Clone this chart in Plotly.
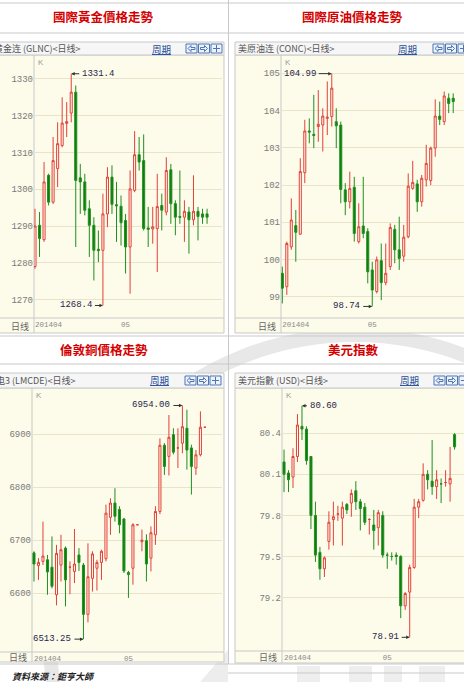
import plotly.graph_objects as go

W, H = 464, 682
CREAM = '#fdfbea'
GRID = '#e9e4c9'
BORDER = '#c9c9c9'

# ---------------- data ----------------
days = list(range(39))
month_labels = ['201404', '05']

gold_open = [1279.0, 1290.2, 1286.3, 1303.8, 1296.5, 1305.6, 1311.9, 1317.9, 1320.7, 1326.4,
             1303.1, 1302.0, 1294.7, 1290.2, 1283.7, 1283.4, 1293.3, 1303.3, 1295.8, 1295.4,
             1291.5, 1284.3, 1299.7, 1309.4, 1307.8, 1289.5, 1289.2, 1289.3, 1295.6, 1293.8,
             1305.3, 1296.1, 1292.6, 1292.4, 1293.8, 1291.7, 1294.0, 1293.3, 1293.3]
gold_close = [1290.0, 1286.6, 1302.0, 1296.5, 1307.8, 1312.4, 1318.0, 1318.4, 1326.4, 1302.4,
              1302.0, 1294.3, 1290.2, 1283.4, 1283.3, 1293.3, 1303.3, 1295.9, 1295.5, 1290.9,
              1284.3, 1300.1, 1309.4, 1307.4, 1289.3, 1289.1, 1289.8, 1295.3, 1294.3, 1305.1,
              1296.1, 1292.4, 1292.4, 1294.0, 1291.7, 1294.0, 1292.6, 1292.4, 1292.4]
gold_high = [1294.7, 1293.8, 1307.4, 1304.2, 1314.2, 1318.2, 1325.0, 1323.7, 1331.4, 1328.2,
             1306.9, 1304.2, 1297.0, 1292.4, 1288.8, 1298.8, 1306.0, 1306.5, 1302.0, 1298.3,
             1293.3, 1305.1, 1315.8, 1314.2, 1314.9, 1295.2, 1295.2, 1304.2, 1298.8, 1308.7,
             1306.9, 1297.0, 1305.1, 1297.0, 1295.2, 1303.8, 1295.2, 1294.7, 1294.7]
gold_low = [1278.4, 1281.6, 1285.7, 1295.6, 1296.0, 1300.6, 1311.4, 1314.2, 1318.2, 1284.3,
            1293.3, 1292.9, 1281.6, 1275.2, 1280.2, 1268.4, 1289.7, 1293.3, 1285.7, 1284.7,
            1277.1, 1271.6, 1299.2, 1305.1, 1288.8, 1284.3, 1285.2, 1277.5, 1288.8, 1292.9,
            1290.6, 1287.5, 1290.6, 1285.7, 1282.5, 1290.2, 1286.1, 1290.6, 1290.6]
gold_ticks = [1270, 1280, 1290, 1300, 1310, 1320, 1330]
gold_month_pos = [0, 19]

oil_open = [99.63, 99.27, 100.34, 100.91, 100.68, 102.33, 103.45, 103.36, 103.57, 103.61,
            103.79, 103.84, 103.70, 103.61, 101.87, 101.55, 101.94, 100.48, 100.90, 100.75,
            99.72, 99.14, 99.97, 99.38, 99.81, 100.81, 100.26, 100.09, 100.61, 101.91,
            102.03, 101.55, 102.14, 102.12, 102.99, 103.85, 103.70, 104.33, 104.33]
oil_close = [99.23, 100.43, 101.06, 100.73, 102.36, 103.45, 103.42, 103.33, 103.63, 103.85,
             103.82, 104.60, 103.59, 101.88, 101.55, 101.91, 100.70, 100.88, 100.70, 99.67,
             99.18, 99.99, 99.38, 99.63, 100.86, 100.26, 100.03, 100.60, 101.97, 102.07,
             101.55, 102.18, 102.58, 102.99, 103.85, 103.76, 104.39, 104.19, 104.24]
oil_high = [99.81, 100.48, 101.64, 101.33, 102.72, 103.75, 103.79, 104.42, 104.55, 104.06,
            104.78, 104.99, 104.06, 103.70, 102.05, 102.36, 102.22, 101.51, 102.22, 100.84,
            99.94, 100.08, 100.43, 100.43, 100.97, 100.93, 101.15, 100.93, 102.31, 102.65,
            102.14, 102.27, 103.08, 103.03, 104.30, 104.24, 104.51, 104.46, 104.46]
oil_low = [98.82, 99.05, 100.26, 99.94, 100.66, 102.05, 103.12, 102.99, 103.16, 102.90,
           103.34, 103.57, 102.99, 101.51, 101.19, 101.37, 100.48, 100.43, 100.57, 99.36,
           98.74, 99.09, 98.91, 99.31, 99.72, 99.90, 99.72, 99.94, 100.57, 101.87,
           101.28, 101.42, 101.96, 102.00, 102.76, 103.61, 103.61, 103.93, 103.93]
oil_ticks = [99, 100, 101, 102, 103, 104, 105]
oil_month_pos = [0, 19]

copper_open = [6676, 6652, 6660, 6663, 6649, 6597, 6653, 6685, 6649, 6641,
               6672, 6653, 6560, 6628, 6647, 6658, 6665, 6743, 6770, 6758,
               6740, 6639, 6647, 6729, 6697, 6699, 6666, 6710, 6754, 6879,
               6858, 6899, 6874, 6883, 6911, 6874, 6836, 6861, 6913]
copper_close = [6655, 6658, 6670, 6640, 6613, 6675, 6682, 6625, 6649, 6655,
                6658, 6560, 6631, 6674, 6658, 6679, 6751, 6770, 6745, 6729,
                6642, 6635, 6729, 6729, 6700, 6655, 6714, 6754, 6879, 6839,
                6894, 6866, 6874, 6914, 6870, 6839, 6861, 6913, 6913]
copper_high = [6679, 6666, 6735, 6672, 6707, 6691, 6710, 6688, 6660, 6721,
               6685, 6657, 6694, 6679, 6663, 6682, 6767, 6779, 6798, 6764,
               6742, 6642, 6732, 6729, 6720, 6711, 6726, 6764, 6892, 6883,
               6936, 6911, 6911, 6954, 6946, 6880, 6870, 6943, 6913]
copper_low = [6622, 6625, 6653, 6597, 6609, 6577, 6622, 6575, 6598, 6619,
              6642, 6513.25, 6545, 6603, 6605, 6625, 6660, 6710, 6735, 6713,
              6638, 6591, 6616, 6729, 6679, 6622, 6641, 6691, 6749, 6823,
              6822, 6862, 6836, 6864, 6833, 6786, 6823, 6858, 6913]
copper_ticks = [6600, 6700, 6800, 6900]
copper_month_pos = [0, 20]

usd_open = [80.19, 80.11, 80.08, 80.23, 80.45, 80.43, 80.23, 79.80, 79.53, 79.41,
            79.61, 79.77, 79.81, 79.78, 79.88, 79.89, 79.98, 79.90, 79.86, 79.77,
            79.73, 79.71, 79.80, 79.51, 79.50, 79.51, 79.50, 79.14, 79.24, 79.42,
            79.86, 79.91, 80.10, 80.05, 80.01, 80.03, 80.04, 80.03, 80.39]
usd_close = [80.10, 80.06, 80.23, 80.46, 80.43, 80.20, 79.80, 79.51, 79.41, 79.49,
             79.75, 79.79, 79.81, 79.86, 79.84, 79.96, 79.90, 79.85, 79.75, 79.77,
             79.69, 79.82, 79.51, 79.51, 79.50, 79.50, 79.14, 79.23, 79.42, 79.86,
             79.90, 80.10, 80.06, 80.01, 80.06, 80.03, 80.04, 80.07, 80.30]
usd_high = [80.28, 80.13, 80.29, 80.54, 80.60, 80.45, 80.23, 79.90, 79.57, 79.50,
            79.83, 79.90, 79.87, 79.90, 79.89, 79.99, 80.05, 79.92, 79.89, 79.78,
            79.84, 79.84, 79.83, 79.53, 79.53, 79.53, 79.51, 79.24, 79.44, 79.92,
            79.92, 80.18, 80.13, 80.35, 80.13, 80.07, 80.13, 80.30, 80.40]
usd_low = [79.97, 79.97, 80.00, 80.19, 80.35, 80.17, 79.70, 79.46, 79.33, 79.35,
           79.55, 79.58, 79.76, 79.58, 79.81, 79.79, 79.84, 79.69, 79.73, 79.66,
           79.55, 79.58, 79.49, 79.41, 79.47, 79.44, 79.05, 79.11, 78.91, 79.41,
           79.78, 79.90, 79.99, 79.95, 79.92, 79.89, 80.01, 79.90, 80.28]
usd_ticks = [79.2, 79.5, 79.8, 80.1, 80.4]
usd_month_pos = [0, 22]


# ---------------- helpers ----------------
def fx(x):
    return x / W


def fy(y):
    return 1 - y / H


def rect(x0, y0, x1, y1, fill=None, line=BORDER, width=1):
    return dict(type='rect', xref='paper', yref='paper', layer='below',
                x0=fx(x0), x1=fx(x1), y0=fy(y0), y1=fy(y1),
                fillcolor=fill if fill else 'rgba(0,0,0,0)',
                line=dict(color=line if line else 'rgba(0,0,0,0)', width=width))


def hline(x0, x1, y, color=BORDER):
    return dict(type='line', xref='paper', yref='paper', layer='below',
                x0=fx(x0), x1=fx(x1), y0=fy(y), y1=fy(y), line=dict(color=color, width=1))


def vline(x, y0, y1, color=BORDER):
    return dict(type='line', xref='paper', yref='paper', layer='below',
                x0=fx(x), x1=fx(x), y0=fy(y0), y1=fy(y1), line=dict(color=color, width=1))


def path(d_pts, fill, line='rgba(0,0,0,0)'):
    d = 'M ' + ' L '.join('%.4f,%.4f' % (fx(x), fy(y)) for x, y in d_pts) + ' Z'
    return dict(type='path', xref='paper', yref='paper', layer='below', path=d,
                fillcolor=fill, line=dict(color=line, width=1))


def text(x, y, s, size=9, color='#555', family='Noto Sans CJK SC', anchor='left'):
    return dict(x=fx(x), y=fy(y), xref='paper', yref='paper', text=s, showarrow=False,
                xanchor=anchor, yanchor='middle',
                font=dict(family=family, size=size, color=color))


def icons(x0, yc):
    out = []
    for k in range(3):
        x = x0 + k * 12.5
        out.append(rect(x, yc - 4.5, x + 11, yc + 4.5, fill='#eef3fb', line='#4d74b3'))
        if k == 0:
            out.append(path([(x + 2, yc), (x + 5, yc - 3), (x + 5, yc - 1), (x + 9, yc - 1),
                             (x + 9, yc + 1), (x + 5, yc + 1), (x + 5, yc + 3)], 'rgba(0,0,0,0)', '#4d74b3'))
        elif k == 1:
            out.append(path([(x + 9, yc), (x + 6, yc - 3), (x + 6, yc - 1), (x + 2, yc - 1),
                             (x + 2, yc + 1), (x + 6, yc + 1), (x + 6, yc + 3)], 'rgba(0,0,0,0)', '#4d74b3'))
        else:
            out.append(hline(x + 2, x + 9, yc, '#4d74b3'))
            out.append(vline(x + 5.5, yc - 3.5, yc + 3.5, '#4d74b3'))
    return out


def candle(o, h, l, c, xa, ya):
    return go.Candlestick(
        x=days, open=o, high=h, low=l, close=c, xaxis=xa, yaxis=ya,
        increasing=dict(line=dict(color='#e2403a', width=1), fillcolor=CREAM),
        decreasing=dict(line=dict(color='#1f8f1f', width=1), fillcolor='#0b7d0b'),
        whiskerwidth=0, showlegend=False, hoverinfo='skip')


def extreme(xa, ya, highs, lows, fmt, ax_hi, ax_lo):
    out = []
    for vals, ax, f in ((highs, ax_hi, max), (lows, ax_lo, min)):
        v = f(vals)
        i = vals.index(v)
        out.append(dict(x=i, y=v, xref=xa, yref=ya, text=fmt % v, showarrow=True,
                        ax=ax, ay=0, xanchor='left' if ax > 0 else 'right', yanchor='middle',
                        arrowhead=2, arrowsize=0.7, arrowwidth=1, arrowcolor='#333',
                        standoff=0, startstandoff=1,
                        font=dict(family='Liberation Mono', size=9, color='#26264a')))
    return out


# ---------------- panels ----------------
panels = [
    dict(key='', title='國際黃金價格走勢', tc=(103, 17), head='黄金连 (GLNC)<日线>', hx=-8,
         box=(-5, 42, 224, 333), plot=(34, 55, 222, 318), qx=161, ix=186,
         rng=[-0.22, 41.3], yr=[1265.0, 1336.5], ticks=gold_ticks, tfmt='%d', mpos=gold_month_pos,
         data=(gold_open, gold_high, gold_low, gold_close), efmt='%.1f', eax=(9, -9)),
    dict(key='2', title='國際原油價格走勢', tc=(352, 17), head='美原油连 (CONC)<日线>', hx=236,
         box=(235, 42, 470, 333), plot=(281, 55, 464, 318), qx=407, ix=433,
         rng=[-0.29, 40.4], yr=[98.43, 105.49], ticks=oil_ticks, tfmt='%d', mpos=oil_month_pos,
         data=(oil_open, oil_high, oil_low, oil_close), efmt='%.2f', eax=(-14, -10)),
    dict(key='3', title='倫敦銅價格走勢', tc=(104, 349), head='伦铜电3 (LMCDE)<日线>', hx=-24,
         box=(-5, 373, 224, 662), plot=(32, 388, 222, 652), qx=159, ix=185,
         rng=[-0.44, 41.8], yr=[6489.0, 6987.0], ticks=copper_ticks, tfmt='%d', mpos=copper_month_pos,
         data=(copper_open, copper_high, copper_low, copper_close), efmt='%.2f', eax=(-10, -10)),
    dict(key='4', title='美元指數', tc=(353, 349), head='美元指數 (USD)<日线>', hx=236,
         box=(235, 373, 470, 663), plot=(282, 388, 464, 651), qx=409, ix=434,
         rng=[-0.45, 40.1], yr=[78.81, 80.73], ticks=usd_ticks, tfmt='%.1f', mpos=usd_month_pos,
         data=(usd_open, usd_high, usd_low, usd_close), efmt='%.2f', eax=(6, -9)),
]

# faint watermark first so the panels cover it
shapes = [
    dict(type='circle', xref='paper', yref='paper', layer='below',
         x0=fx(355 - 305), x1=fx(355 + 305), y0=fy(640 + 305), y1=fy(640 - 305),
         line=dict(color='#e8e8e8', width=14)),
    path([(200, 682), (228, 650), (228, 682)], '#ededed'),
]
for x0, x1 in ((297, 320), (349, 372), (384, 402), (419, 445)):
    shapes.append(rect(x0, 666, x1, 682, fill='#eeeeee', line=None))

annotations = []
traces = []
layout_axes = {}

for p in panels:
    bx0, by0, bx1, by1 = p['box']
    px0, py0, px1, py1 = p['plot']
    shapes.append(rect(bx0, py0, bx1, by1, fill=CREAM, line=BORDER))
    shapes.append(rect(bx0, by0, bx1, py0, fill='#f6f6f6', line=BORDER))
    shapes.append(hline(bx0, bx1, py1))
    shapes.append(vline(px0, py0, by1))
    shapes += icons(p['ix'], (by0 + py0) / 2)

    annotations.append(text(p['tc'][0], p['tc'][1], '<b>%s</b>' % p['title'], size=12.5,
                            color='#d40000', family='Noto Sans CJK TC', anchor='center'))
    annotations.append(text(p['hx'], (by0 + py0) / 2, p['head'], size=9, color='#555'))
    annotations.append(text(p['qx'], (by0 + py0) / 2, '<u>周期</u>', size=9.5, color='#1f4e9a',
                            anchor='center'))
    annotations.append(text(px0 + 2, py0 + 7, 'K', size=8, color='#999', family='Liberation Sans'))
    annotations.append(text(px0 - 3, (py1 + by1) / 2 + 0.5, '日线', size=9, color='#666',
                            anchor='right'))

    k = p['key']
    xa, ya = 'x' + k, 'y' + k
    o, h, l, c = p['data']
    traces.append(candle(o, h, l, c, xa, ya))
    annotations += extreme(xa, ya, h, l, p['efmt'], p['eax'][0], p['eax'][1])

    layout_axes['xaxis' + k] = dict(
        domain=[fx(px0), fx(px1)], range=p['rng'], anchor=ya,
        tickmode='array', tickvals=p['mpos'], ticktext=month_labels,
        ticklabelposition='outside right', ticks='', showgrid=False, zeroline=False,
        showline=False, rangeslider=dict(visible=False), fixedrange=True,
        tickfont=dict(family='Liberation Mono', size=7.5, color='#8a8a8a'))
    layout_axes['yaxis' + k] = dict(
        domain=[fy(py1), fy(py0)], range=p['yr'], anchor=xa,
        tickmode='array', tickvals=p['ticks'], ticktext=[p['tfmt'] % t for t in p['ticks']],
        ticks='', showgrid=True, gridcolor=GRID, gridwidth=1, zeroline=False, showline=False,
        fixedrange=True, tickfont=dict(family='Liberation Mono', size=9, color='#7a7a7a'))

# page frame lines
shapes += [
    hline(0, W, 3), hline(0, W, 33), hline(0, W, 336), hline(0, W, 364),
    hline(0, W, 664), hline(228, W, 673),
    vline(228.5, 0, 664),
]

annotations.append(text(10, 676, '<i><b>資料來源：鉅亨大師</b></i>', size=9, color='#222',
                        family='Noto Sans CJK TC'))

fig = go.Figure(data=traces)
fig.update_layout(
    width=W, height=H, autosize=False,
    margin=dict(l=0, r=0, t=0, b=0, pad=0),
    paper_bgcolor='white', plot_bgcolor='rgba(0,0,0,0)',
    showlegend=False, boxgap=0.35,
    shapes=shapes, annotations=annotations,
    **layout_axes,
)

# the page body has an 8px default margin; drop it so the figure sits at the window corner
fig.write_html("out.html", config={'displayModeBar': False},
               post_script="document.body.style.margin='0';document.body.style.overflow='hidden';")
